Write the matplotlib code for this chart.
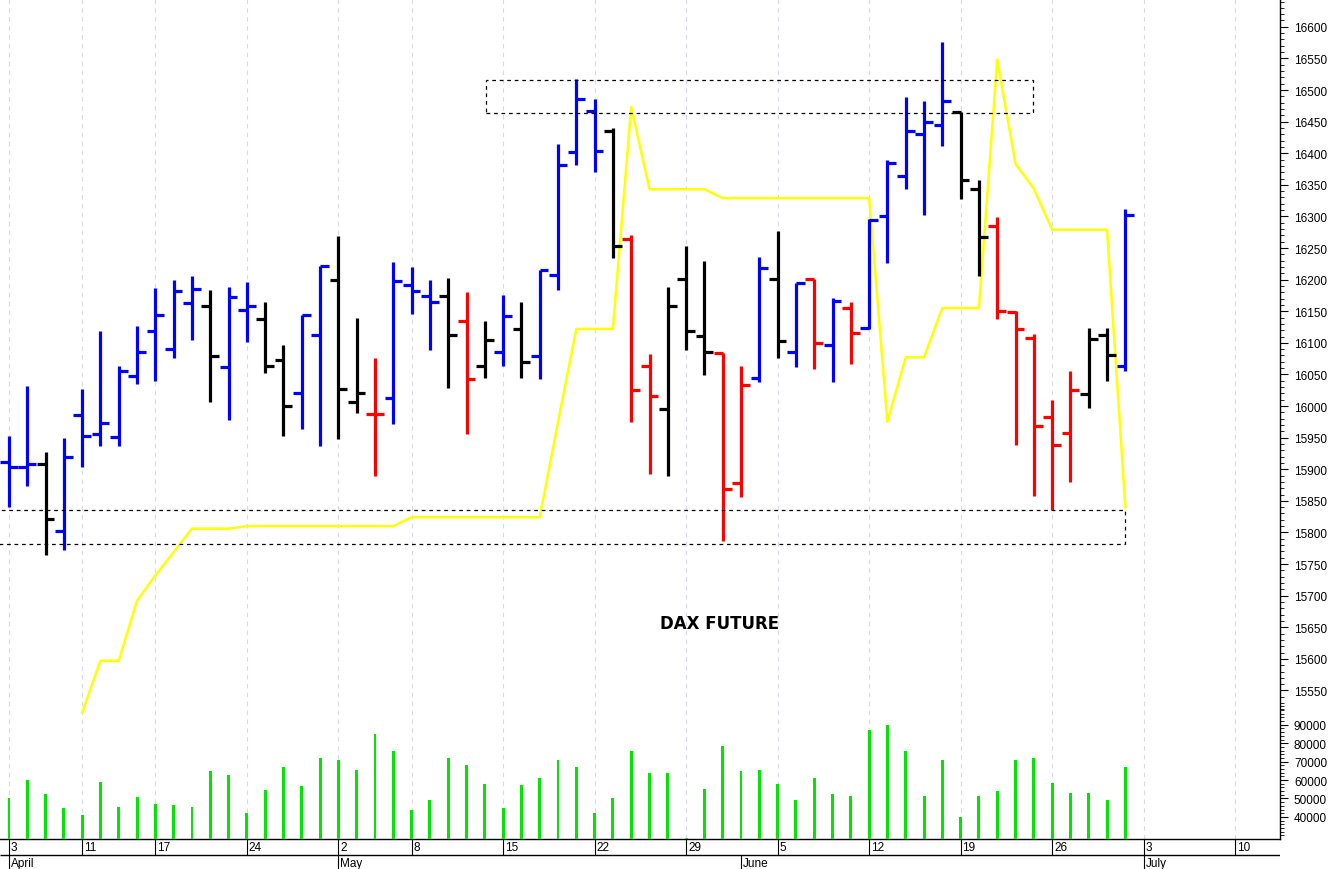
"""
DAX Future - gráfico de barras OHLC con volumen
"""

import matplotlib
matplotlib.use('Agg')
import matplotlib.pyplot as plt
from matplotlib.patches import Rectangle
import numpy as np

# ─────────────────────────────────────────────
# DATOS (3 abr - 30 jun)
# ─────────────────────────────────────────────
opens = [15912, 15903, 15909, 15802, 15986, 15956, 15951, 16048, 16119, 16090,
         16163, 16158, 16062, 16152, 16137, 16073, 16021, 16112, 16199, 16006,
         15987, 16013, 16192, 16174, 16174, 16134, 16063, 16085, 16122, 16079,
         16208, 16402, 16467, 16435, 16265, 16063, 15996, 16201, 16111, 16084,
         15879, 16045, 16201, 16085, 16201, 16097, 16155, 16123, 16301, 16364,
         16431, 16445, 16466, 16343, 16285, 16149, 16107, 15983, 15957, 16019,
         16113, 16064]
highs = [15953, 16031, 15927, 15950, 16027, 16119, 16064, 16127, 16187, 16199,
         16205, 16183, 16188, 16196, 16164, 16096, 16144, 16222, 16269, 16139,
         16076, 16228, 16220, 16199, 16203, 16180, 16134, 16176, 16165, 16216,
         16415, 16518, 16486, 16440, 16271, 16083, 16188, 16254, 16230, 16084,
         16063, 16236, 16277, 16195, 16201, 16171, 16164, 16296, 16390, 16489,
         16482, 16576, 16466, 16357, 16299, 16150, 16114, 16010, 16055, 16124,
         16124, 16311]
lows = [15841, 15873, 15764, 15772, 15904, 15936, 15936, 16035, 16039, 16076,
        16105, 16007, 15978, 16101, 16052, 15953, 15964, 15937, 15948, 15989,
        15890, 15972, 16146, 16089, 16028, 15956, 16045, 16064, 16045, 16042,
        16184, 16382, 16371, 16235, 15974, 15893, 15890, 16088, 16049, 15786,
        15856, 16038, 16076, 16061, 16059, 16038, 16067, 16122, 16227, 16344,
        16303, 16411, 16328, 16206, 16138, 15939, 15857, 15835, 15880, 15997,
        16039, 16055]
closes = [15903, 15909, 15822, 15919, 15952, 15973, 16056, 16085, 16144, 16182,
          16185, 16079, 16172, 16158, 16063, 16000, 16144, 16222, 16027, 16021,
          15987, 16198, 16182, 16164, 16113, 16042, 16105, 16142, 16070, 16216,
          16382, 16485, 16404, 16253, 16026, 16016, 16158, 16119, 16085, 15869,
          16034, 16218, 16103, 16195, 16099, 16166, 16115, 16295, 16385, 16435,
          16449, 16482, 16357, 16268, 16151, 16122, 15968, 15939, 16025, 16106,
          16080, 16303]
# estado de cada barra: B = alcista, K = neutral, R = bajista
bar_state = list("BBKBBBBBBB" "BKBBKKBBKK" "RBBBKRKBKB" "BBBKRRKKKR"
                 "RBKBRBRBBB" "BBKKRRRRRK" "KB")

# línea amarilla (indicador), None donde no hay valor
signal = [None, None, None, None, 15515, 15597, 15597, 15692, 15732, 15769,
          15806, 15806, 15806, 15810, 15810, 15810, 15810, 15810, 15810, 15810,
          15810, 15810, 15824, 15824, 15824, 15824, 15824, 15824, 15824, 15824,
          15974, 16122, 16122, 16122, 16473, 16343, 16343, 16343, 16343, 16329,
          16329, 16329, 16329, 16329, 16329, 16329, 16329, 16329, 15975, 16077,
          16077, 16155, 16155, 16155, 16548, 16383, 16344, 16279, 16279, 16279,
          16279, 15840]

volume = [50300, 60000, 52500, 45000, 41000, 59000, 45500, 51000, 47000, 46500,
          45500, 65000, 63000, 42000, 54500, 67000, 57000, 72000, 71000, 65500,
          85000, 76000, 44000, 49000, 72000, 68000, 58000, 45000, 57500, 61000,
          71000, 67000, 42000, 50000, 76000, 64000, 64000, 28600, 55000, 78500,
          65000, 65500, 58000, 49000, 61000, 52500, 51500, 87000, 90000, 76000,
          51500, 71000, 40000, 51500, 54000, 71000, 72000, 58500, 53000, 53000,
          49000, 67000]

# zonas marcadas con rectángulos punteados: (precio bajo, precio alto)
upper_zone = (16464, 16516)
lower_zone = (15782, 15836)
upper_zone_bars = (26.07, 55.96)
lower_zone_bars = (-1.0, 61.0)

# eje de fechas (índice de barra de cada lunes / inicio de mes)
day_ticks = [0, 4, 8, 13, 18, 22, 27, 32, 37, 42, 47, 52, 57, 62, 67]
day_labels = ['3', '11', '17', '24', '2', '8', '15', '22', '29', '5', '12',
              '19', '26', '3', '10']
month_ticks = [0, 18, 40, 62]
month_labels = ['April', 'May', 'June', 'July']

price_labels = list(range(15550, 16601, 50))
volume_labels = list(range(40000, 90001, 10000))

# ─────────────────────────────────────────────
# ESTILO
# ─────────────────────────────────────────────
plt.rcParams['font.family'] = ['Liberation Sans', 'DejaVu Sans']
COLOR_MAP = {'B': '#0000ff', 'K': '#000000', 'R': '#ff0000'}
TICK_LEN = 0.48
W, H = 1328, 870
PLOT_RIGHT = 1280 / W
XLIM = (-0.49, 69.45)

fig = plt.figure(figsize=(W / 100, H / 100), dpi=100)
fig.patch.set_facecolor('white')

# ── panel de precios ──
ax = fig.add_axes([0, 30 / H, PLOT_RIGHT, 840 / H])
ax.set_xlim(*XLIM)
ax.set_ylim(15315, 16644)

x = np.arange(len(opens))
cols = [COLOR_MAP[s] for s in bar_state]
sig = np.array([np.nan if v is None else v for v in signal], dtype=float)

ax.plot(x, sig, color='#ffff00', linewidth=1.8, zorder=2)
ax.vlines(x, lows, highs, colors=cols, linewidth=2.3, zorder=3)
ax.hlines(opens, x - TICK_LEN, x, colors=cols, linewidth=2.3, zorder=3)
ax.hlines(closes, x, x + TICK_LEN, colors=cols, linewidth=2.3, zorder=3)

for (lo, hi), (x0, x1) in [(upper_zone, upper_zone_bars), (lower_zone, lower_zone_bars)]:
    ax.add_patch(Rectangle((x0, lo), x1 - x0, hi - lo, fill=False,
                           edgecolor='black', linewidth=0.9,
                           linestyle=(0, (3, 3)), zorder=4))

ax.text(0.5625, 0.257, 'DAX FUTURE', transform=ax.transAxes,
        fontsize=12, fontweight='bold', family='DejaVu Sans',
        ha='center', va='center')

# rejilla vertical en cada lunes
ax.set_xticks(day_ticks)
ax.set_xticklabels([])
ax.tick_params(axis='x', length=0)
ax.grid(axis='x', color='#d8d8ec', linestyle=(0, (4, 4)), linewidth=0.8)
ax.set_axisbelow(True)

# eje de precios a la derecha
ax.yaxis.tick_right()
ax.set_yticks(price_labels)
ax.set_yticklabels([str(v) for v in price_labels], fontsize=8.5)
ax.set_yticks(np.arange(15520, 16641, 10), minor=True)
ax.tick_params(axis='y', which='major', length=6, width=0.8, pad=4)
ax.tick_params(axis='y', which='minor', length=3, width=0.6)
for side in ['left', 'top']:
    ax.spines[side].set_visible(False)
ax.spines['right'].set_linewidth(1.0)
ax.spines['bottom'].set_linewidth(1.0)

# ── panel de volumen (superpuesto abajo) ──
vax = fig.add_axes([0, 30 / H, PLOT_RIGHT, 140 / H])
vax.patch.set_alpha(0)
vax.set_xlim(*XLIM)
vax.set_ylim(28000, 104000)
vax.bar(x, volume, width=0.16, color='#00e600', zorder=3)
for side in vax.spines:
    vax.spines[side].set_visible(False)
vax.set_xticks([])
vax.yaxis.tick_right()
vax.set_yticks(volume_labels)
vax.set_yticklabels([str(v) for v in volume_labels], fontsize=8.5)
vax.set_yticks(np.arange(30000, 100001, 2000), minor=True)
vax.tick_params(axis='y', which='major', length=6, width=0.8, pad=4)
vax.tick_params(axis='y', which='minor', length=3, width=0.6)

# ── franja de fechas ──
sax = fig.add_axes([0, 0, PLOT_RIGHT, 30 / H])
sax.set_xlim(*XLIM)
sax.set_ylim(0, 30)
sax.axis('off')
sax.hlines(14, *XLIM, color='black', linewidth=1.0)
sax.vlines(day_ticks, 14, 30, color='black', linewidth=0.8)
for t, lbl in zip(day_ticks, day_labels):
    sax.text(t + 0.1, 22, lbl, fontsize=8.5, ha='left', va='center')
sax.vlines(month_ticks, 0, 14, color='black', linewidth=0.8)
for t, lbl in zip(month_ticks, month_labels):
    sax.text(t + 0.1, 6, lbl, fontsize=8.5, ha='left', va='center')

plt.savefig('out.png', dpi=100)
